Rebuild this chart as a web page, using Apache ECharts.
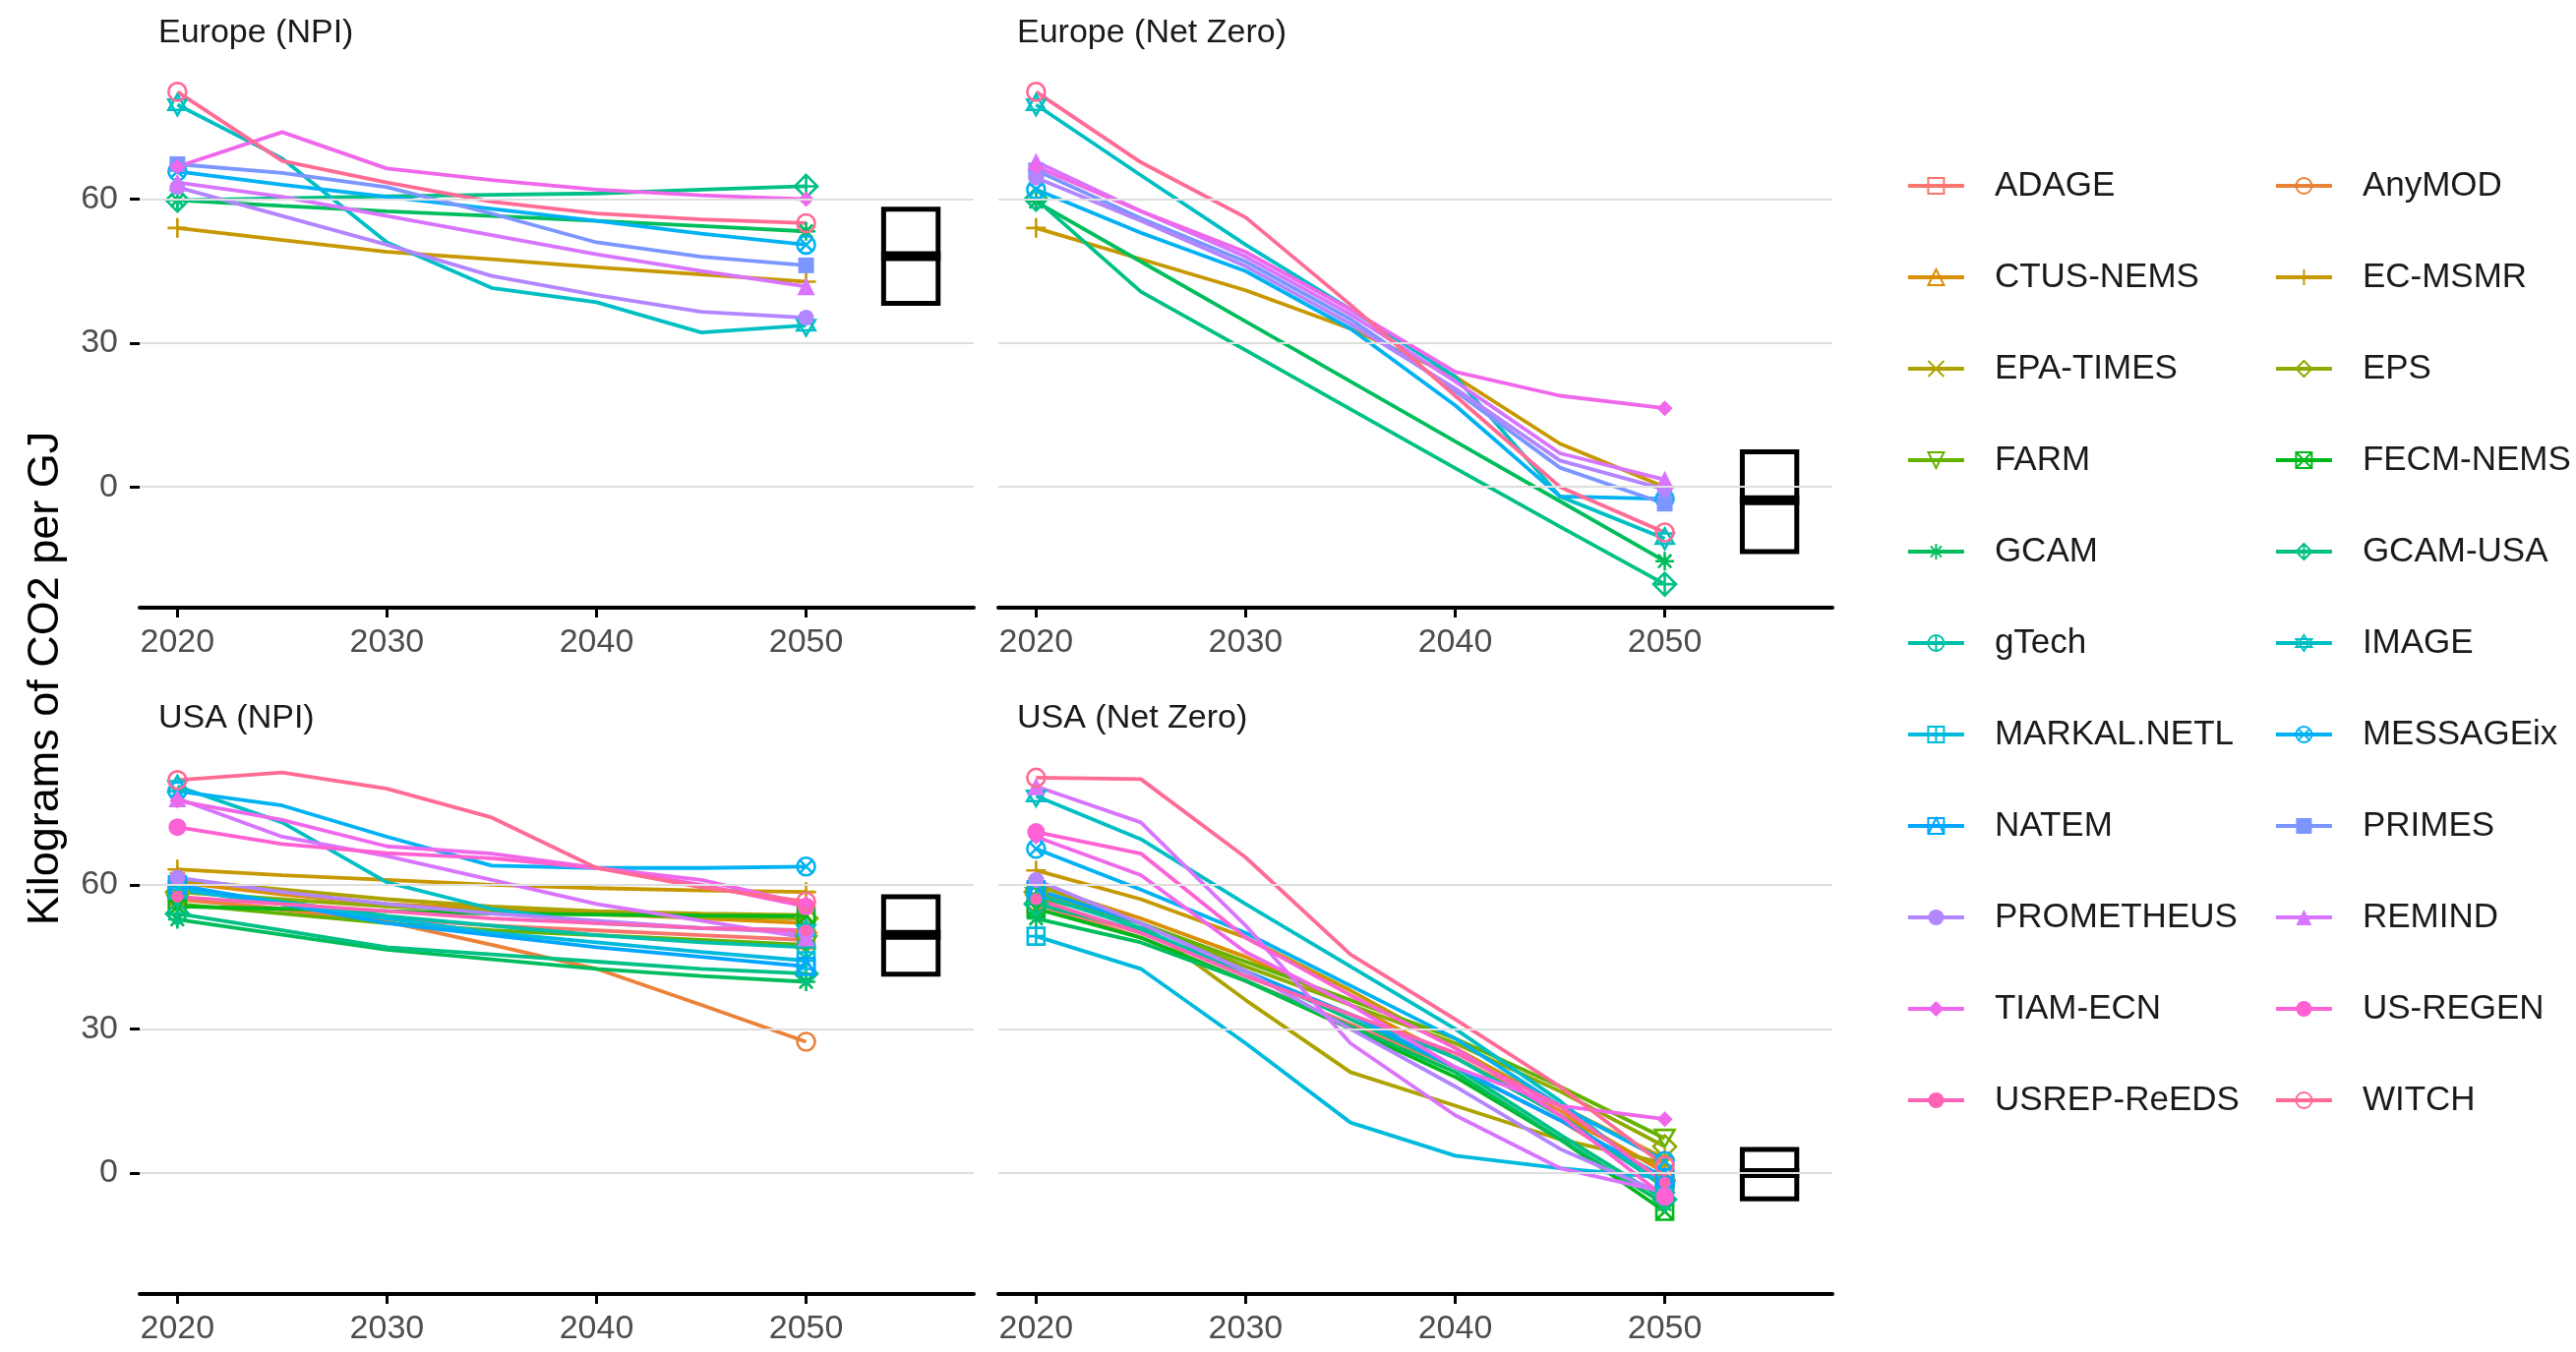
<!DOCTYPE html>
<html><head><meta charset="utf-8">
<script src="https://cdn.jsdelivr.net/npm/echarts@6/dist/echarts.min.js"></script>
<style>html,body{margin:0;padding:0;background:#fff}#c{width:2619px;height:1375px}</style>
</head><body><div id="c"></div><script>
// ---------------- DATA ----------------
const models = ['ADAGE','AnyMOD','CTUS-NEMS','EC-MSMR','EPA-TIMES','EPS','FARM','FECM-NEMS','GCAM','GCAM-USA','gTech','IMAGE','MARKAL.NETL','MESSAGEix','NATEM','PRIMES','PROMETHEUS','REMIND','TIAM-ECN','US-REGEN','USREP-ReEDS','WITCH'];
const years = [2020, 2025, 2030, 2035, 2040, 2045, 2050];
const xTickValues = [2020, 2030, 2040, 2050];
const yTickValues = [0, 30, 60];
const panelTitles = ['Europe (NPI)', 'Europe (Net Zero)', 'USA (NPI)', 'USA (Net Zero)'];
const yAxisTitle = 'Kilograms of CO2 per GJ';

const europeNPI = {
  'EC-MSMR':    [54.0, 51.5, 49.0, 47.5, 45.8, 44.3, 42.8],
  'GCAM':       [59.8, 58.6, 57.5, 56.5, 55.5, 54.4, 53.3],
  'GCAM-USA':   [59.8, 60.2, 60.6, 60.9, 61.2, 62.0, 62.7],
  'IMAGE':      [79.7, 68.5, 51.0, 41.5, 38.5, 32.2, 33.7],
  'MESSAGEix':  [65.8, 63.0, 60.5, 58.0, 55.5, 52.8, 50.5],
  'PRIMES':     [67.3, 65.5, 62.5, 57.0, 51.0, 48.0, 46.2],
  'PROMETHEUS': [62.5, 56.5, 50.5, 44.0, 40.0, 36.5, 35.3],
  'REMIND':     [63.5, 60.5, 56.5, 52.5, 48.5, 45.0, 41.8],
  'TIAM-ECN':   [66.8, 74.0, 66.4, 64.0, 62.0, 60.8, 60.0],
  'WITCH':      [82.4, 68.0, 63.5, 59.5, 57.0, 55.8, 55.0]
};
const europeNZ = {
  'EC-MSMR':    [54.0, 47.5, 41.0, 33.0, 23.0, 9.0, 0.0],
  'GCAM':       [59.5, 47.0, 34.5, 22.0, 9.5, -3.0, -15.5],
  'GCAM-USA':   [60.0, 40.7, 28.5, 16.2, 3.9, -8.3, -20.3],
  'IMAGE':      [79.7, 65.0, 50.5, 37.0, 23.0, -2.0, -10.8],
  'MESSAGEix':  [62.0, 53.0, 45.0, 33.0, 17.0, -2.0, -2.5],
  'PRIMES':     [66.0, 56.0, 47.0, 35.0, 20.0, 4.0, -3.5],
  'PROMETHEUS': [64.5, 55.5, 46.0, 34.0, 20.5, 5.5, -0.5],
  'REMIND':     [67.8, 57.5, 48.0, 36.0, 22.0, 7.0, 1.5],
  'TIAM-ECN':   [66.8, 57.5, 49.0, 37.0, 24.0, 19.0, 16.4],
  'WITCH':      [82.4, 67.7, 56.2, 38.0, 19.0, 0.0, -9.5]
};
const usaNPI = {
  'ADAGE':       [57.0, 55.0, 53.0, 51.5, 50.5, 49.5, 48.5],
  'AnyMOD':      [57.2, 54.8, 52.3, 47.5, 42.5, 35.0, 27.3],
  'CTUS-NEMS':   [60.5, 58.0, 56.0, 55.0, 54.0, 53.0, 52.0],
  'EC-MSMR':     [63.2, 62.0, 61.0, 60.0, 59.3, 58.8, 58.5],
  'EPA-TIMES':   [61.0, 59.0, 57.0, 55.5, 54.5, 54.0, 53.7],
  'EPS':         [58.5, 57.0, 55.5, 54.5, 53.8, 53.3, 53.0],
  'FARM':        [56.0, 54.0, 52.0, 50.5, 49.5, 48.5, 47.5],
  'FECM-NEMS':   [55.5, 55.0, 54.5, 54.0, 53.8, 53.6, 53.5],
  'GCAM':        [52.8, 49.6, 46.5, 44.5, 42.5, 41.0, 39.8],
  'GCAM-USA':    [54.0, 50.5, 47.0, 45.5, 44.0, 42.5, 41.5],
  'gTech':       [59.5, 56.5, 53.5, 51.5, 49.5, 48.0, 47.0],
  'IMAGE':       [80.5, 73.0, 60.5, 55.0, 52.0, 51.0, 50.5],
  'MARKAL.NETL': [59.0, 56.0, 53.0, 50.0, 48.0, 46.0, 44.2],
  'MESSAGEix':   [79.5, 76.5, 70.0, 64.0, 63.5, 63.5, 63.8],
  'NATEM':       [60.0, 56.0, 52.0, 49.5, 47.0, 45.0, 43.0],
  'PROMETHEUS':  [61.5, 58.5, 56.0, 54.0, 52.5, 51.0, 50.0],
  'REMIND':      [78.0, 70.0, 66.0, 61.0, 56.0, 52.5, 49.0],
  'TIAM-ECN':    [77.5, 73.5, 68.0, 66.5, 63.5, 61.0, 56.0],
  'US-REGEN':    [72.0, 68.5, 66.6, 65.5, 63.5, 60.0, 55.5],
  'USREP-ReEDS': [57.5, 56.0, 54.5, 53.0, 52.0, 51.0, 50.5],
  'WITCH':       [81.8, 83.4, 80.0, 74.0, 63.5, 59.5, 56.5]
};
const usaNZ = {
  'ADAGE':       [56.0, 49.0, 40.0, 31.0, 22.0, 11.0, -2.5],
  'AnyMOD':      [56.5, 50.0, 42.0, 33.0, 24.0, 13.0, 0.0],
  'CTUS-NEMS':   [60.0, 53.0, 45.0, 35.0, 24.0, 12.0, 0.5],
  'EC-MSMR':     [63.0, 57.0, 49.0, 38.0, 26.0, 14.0, 3.0],
  'EPA-TIMES':   [60.0, 52.0, 36.0, 21.0, 14.0, 7.0, 2.0],
  'EPS':         [58.5, 52.0, 43.0, 35.0, 27.0, 17.0, 5.5],
  'FARM':        [57.5, 52.0, 44.0, 36.0, 28.0, 18.0, 7.2],
  'FECM-NEMS':   [55.0, 49.0, 40.0, 30.0, 20.0, 7.0, -8.0],
  'GCAM':        [53.0, 48.0, 40.0, 30.5, 21.0, 7.0, -6.5],
  'GCAM-USA':    [56.0, 50.5, 42.0, 32.0, 22.0, 8.0, -5.5],
  'gTech':       [58.0, 51.0, 41.0, 33.0, 24.0, 12.0, -3.0],
  'IMAGE':       [78.5, 69.5, 56.0, 43.0, 30.0, 15.0, -3.0],
  'MARKAL.NETL': [49.3, 42.5, 27.0, 10.5, 3.6, 1.0, -1.0],
  'MESSAGEix':   [67.5, 59.0, 50.0, 39.0, 28.0, 14.0, 2.5],
  'NATEM':       [59.0, 52.0, 42.0, 33.0, 22.0, 11.0, -1.0],
  'PROMETHEUS':  [61.0, 52.0, 42.0, 30.0, 18.0, 5.0, -4.5],
  'REMIND':      [80.5, 73.0, 51.5, 27.0, 12.0, 1.0, -4.0],
  'TIAM-ECN':    [70.0, 62.0, 46.0, 35.0, 22.0, 14.0, 11.2],
  'US-REGEN':    [71.0, 66.5, 49.0, 37.0, 26.0, 12.0, -5.0],
  'USREP-ReEDS': [57.0, 50.0, 41.0, 33.0, 25.0, 14.0, -2.0],
  'WITCH':       [82.3, 82.0, 65.7, 45.5, 32.0, 18.0, 1.5]
};
// crossbar summaries per panel: [x, lower, middle, upper]
const boxEuropeNPI = [2055, 38.3, 48.1, 57.9];
const boxEuropeNZ  = [2055, -13.5, -2.8, 7.3];
const boxUsaNPI    = [2055, 41.4, 49.6, 57.5];
const boxUsaNZ     = [2055, -5.4, 0.0, 4.9];

// ---------------- STYLE ----------------
const FONT = 'Liberation Sans, Arial, sans-serif';
const X_MIN = 2018.2, X_MAX = 2058.0, Y_MIN = -25.2, Y_MAX = 87.4;
const BOX_HALF = 1.3;

function hcl2hex(h, c, l) {
  const hr = h * Math.PI / 180;
  const U = c * Math.cos(hr), V = c * Math.sin(hr);
  const Xn = 95.047, Yn = 100, Zn = 108.883;
  const un = 4 * Xn / (Xn + 15 * Yn + 3 * Zn), vn = 9 * Yn / (Xn + 15 * Yn + 3 * Zn);
  const Y = l > 8 ? Yn * Math.pow((l + 16) / 116, 3) : Yn * l / 903.3;
  const u = U / (13 * l) + un, v = V / (13 * l) + vn;
  const X = 9 * Y * u / (4 * v), Z = -X / 3 - 5 * Y + 3 * Y / v;
  const x = X / 100, y = Y / 100, z = Z / 100;
  const r = 3.240479 * x - 1.537150 * y - 0.498535 * z;
  const g = -0.969256 * x + 1.875992 * y + 0.041556 * z;
  const b = 0.055648 * x - 0.204043 * y + 1.057311 * z;
  const gam = t => { t = t <= 0.0031308 ? 12.92 * t : 1.055 * Math.pow(t, 1 / 2.4) - 0.055; return Math.round(Math.max(0, Math.min(1, t)) * 255); };
  return '#' + [r, g, b].map(gam).map(n => n.toString(16).padStart(2, '0')).join('');
}
const colors = models.map((m, i) => hcl2hex(15 + i * 360 / models.length, 100, 65));

const CIRC = 'M0,10A10,10,0,1,1,20,10A10,10,0,1,1,0,10Z';
const SQ = 'M0,0L20,0L20,20L0,20Z';
const shapeDefs = [
  {symbol: 'rect', size: 17, filled: false},
  {symbol: 'circle', size: 18, filled: false},
  {symbol: 'triangle', size: 20, filled: false},
  {symbol: 'path://M10,0L10,20M0,10L20,10', size: 20, filled: false},
  {symbol: 'path://M0,0L20,20M20,0L0,20', size: 15, filled: false},
  {symbol: 'diamond', size: 23, filled: false},
  {symbol: 'path://M0,0L20,0L10,17.32Z', size: 20, filled: false},
  {symbol: 'path://' + SQ + 'M0,0L20,20M20,0L0,20', size: 17, filled: false},
  {symbol: 'path://M10,0L10,20M0,10L20,10M2.93,2.93L17.07,17.07M17.07,2.93L2.93,17.07', size: 19, filled: false},
  {symbol: 'path://M10,0L20,10L10,20L0,10ZM10,0L10,20M0,10L20,10', size: 23, filled: false},
  {symbol: 'path://' + CIRC + 'M10,0L10,20M0,10L20,10', size: 18, filled: false},
  {symbol: 'path://M10,0L18.66,15L1.34,15ZM10,20L1.34,5L18.66,5Z', size: 21, filled: false},
  {symbol: 'path://' + SQ + 'M10,0L10,20M0,10L20,10', size: 17, filled: false},
  {symbol: 'path://' + CIRC + 'M2.93,2.93L17.07,17.07M17.07,2.93L2.93,17.07', size: 18, filled: false},
  {symbol: 'path://' + SQ + 'M0,20L10,0L20,20', size: 17, filled: false},
  {symbol: 'rect', size: 16, filled: true},
  {symbol: 'circle', size: 16, filled: true},
  {symbol: 'triangle', size: 18, filled: true},
  {symbol: 'diamond', size: 16, filled: true},
  {symbol: 'circle', size: 18, filled: true},
  {symbol: 'circle', size: 12, filled: true},
  {symbol: 'circle', size: 18, filled: false}
];

const panelData = [europeNPI, europeNZ, usaNPI, usaNZ];
const panelBoxes = [boxEuropeNPI, boxEuropeNZ, boxUsaNPI, boxUsaNZ];
const panelLayout = [
  {left: 142, top: 69, height: 549, showY: true},
  {left: 1015, top: 69, height: 549, showY: false},
  {left: 142, top: 766, height: 550, showY: true},
  {left: 1015, top: 766, height: 550, showY: false}
];
const PANEL_W = 848;

const grids = [], xAxes = [], yAxes = [], series = [], titles = [];
panelLayout.forEach((p, k) => {
  grids.push({left: p.left, top: p.top, width: PANEL_W, height: p.height, containLabel: false});
  xAxes.push({
    type: 'value', gridIndex: k, min: X_MIN, max: X_MAX,
    splitLine: {show: false},
    axisLine: {show: true, onZero: false, lineStyle: {color: '#000', width: 4}},
    axisTick: {show: true, customValues: xTickValues, length: 10, lineStyle: {color: '#000', width: 3}},
    axisLabel: {show: true, customValues: xTickValues, fontSize: 34, color: '#4d4d4d', margin: 19, fontFamily: FONT, formatter: v => String(v)}
  });
  yAxes.push({
    type: 'value', gridIndex: k, min: Y_MIN, max: Y_MAX,
    splitLine: {show: false},
    axisLine: {show: false},
    axisTick: {show: p.showY, customValues: yTickValues, length: 10, lineStyle: {color: '#000', width: 3}},
    axisLabel: {show: p.showY, customValues: yTickValues, fontSize: 34, color: '#4d4d4d', margin: 22, fontFamily: FONT}
  });
  titles.push({
    text: panelTitles[k], left: p.left + 19, top: p.top - 52, padding: 0,
    textStyle: {fontSize: 34, fontWeight: 'normal', color: '#1a1a1a', fontFamily: FONT}
  });
  // grid lines
  series.push({
    type: 'line', xAxisIndex: k, yAxisIndex: k, data: [], silent: true, z: 1,
    markLine: {silent: true, symbol: 'none', animation: false, label: {show: false},
      lineStyle: {color: '#dedede', width: 2, type: 'solid'},
      data: yTickValues.map(v => ({yAxis: v}))}
  });
  const d = panelData[k];
  models.forEach((m, i) => {
    if (!d[m]) return;
    const sh = shapeDefs[i], col = colors[i];
    series.push({
      type: 'line', name: m, xAxisIndex: k, yAxisIndex: k, z: 3, silent: true,
      emphasis: {disabled: true},
      symbol: sh.symbol, symbolSize: sh.size, symbolKeepAspect: true,
      itemStyle: {color: sh.filled ? col : 'rgba(0,0,0,0)', borderColor: col, borderWidth: sh.filled ? 0 : 2.6},
      lineStyle: {color: col, width: 3.8},
      data: years.map((yr, j) => (j === 0 || j === years.length - 1) ? [yr, d[m][j]] : {value: [yr, d[m][j]], symbol: 'none'})
    });
  });
  series.push({
    type: 'custom', xAxisIndex: k, yAxisIndex: k, z: 4, silent: true,
    data: [panelBoxes[k]],
    renderItem: (params, api) => {
      const x = api.value(0), lo = api.value(1), md = api.value(2), hi = api.value(3);
      const a = api.coord([x - BOX_HALF, hi]);
      const b = api.coord([x + BOX_HALF, lo]);
      const mid = api.coord([x, md]);
      return {type: 'group', children: [
        {type: 'rect', shape: {x: a[0], y: a[1], width: b[0] - a[0], height: b[1] - a[1]}, style: {fill: 'none', stroke: '#000', lineWidth: 5}},
        {type: 'rect', shape: {x: a[0] - 2.5, y: mid[1] - 5, width: b[0] - a[0] + 5, height: 10}, style: {fill: '#000'}}
      ]};
    }
  });
});

const legendBase = {
  orient: 'vertical', top: 169, itemWidth: 57, itemHeight: 20, itemGap: 53, padding: 0,
  selectedMode: false,
  lineStyle: {width: 3.8},
  textStyle: {fontSize: 35, color: '#1a1a1a', lineHeight: 40, padding: [0, 0, 0, 26], fontFamily: FONT}
};

const chart = echarts.init(document.getElementById('c'), null, {renderer: 'canvas'});
chart.setOption({
  animation: false,
  backgroundColor: '#ffffff',
  textStyle: {fontFamily: FONT},
  title: titles,
  grid: grids,
  xAxis: xAxes,
  yAxis: yAxes,
  legend: [
    Object.assign({}, legendBase, {left: 1938, data: models.filter((m, i) => i % 2 === 0)}),
    Object.assign({}, legendBase, {left: 2312, data: models.filter((m, i) => i % 2 === 1)})
  ],
  graphic: [{
    type: 'text', x: 47, y: 690, rotation: Math.PI / 2, silent: true,
    style: {text: yAxisTitle, fontSize: 45, fontFamily: FONT, fill: '#000', align: 'center', verticalAlign: 'middle'}
  }],
  series: series
});
</script></body></html>
